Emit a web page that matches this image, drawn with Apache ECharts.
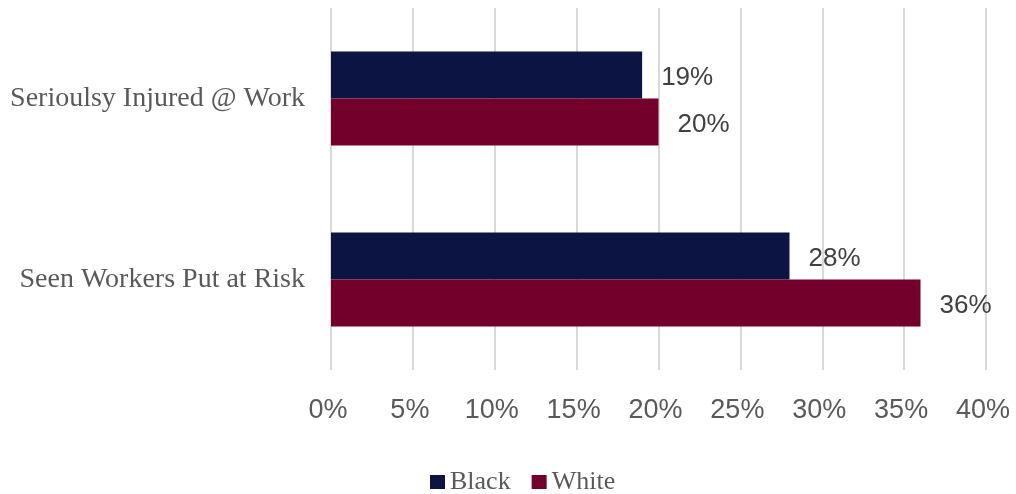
<!DOCTYPE html>
<html>
<head>
<meta charset="utf-8">
<script src="https://cdn.jsdelivr.net/npm/echarts@6/dist/echarts.min.js"></script>
<style>html,body{margin:0;padding:0;background:#fff}#c{width:1016px;height:494px}</style>
</head>
<body>
<div id="c"></div>
<script>
const categories = ["Serioulsy Injured @ Work", "Seen Workers Put at Risk"];
const seriesNames = ["Black", "White"];
const blackValues = [19, 28];
const whiteValues = [20, 36];
const tickValues = [0, 5, 10, 15, 20, 25, 30, 35, 40];

const colors = ["#0b1443", "#72002a"];
const chart = echarts.init(document.getElementById('c'), null, {renderer: 'canvas'});
const serif = "'Liberation Serif', 'DejaVu Serif', serif";
const sans = "'Liberation Sans', Arial, sans-serif";
const label = {
  show: true, position: 'right', distance: 19, offset: [0, 3],
  formatter: p => p.value + '%',
  color: '#404040', fontSize: 26, fontFamily: sans
};
chart.setOption({
  animation: false,
  grid: {left: 331, right: 30, top: 8, bottom: 124, containLabel: false},
  legend: {
    top: 464, left: 425, itemWidth: 15, itemHeight: 14, itemGap: 21,
    icon: 'rect',
    textStyle: {color: '#595959', fontSize: 26, fontFamily: serif},
    data: seriesNames
  },
  xAxis: {
    type: 'value', min: tickValues[0], max: tickValues[tickValues.length-1], interval: 5,
    axisLine: {show: false}, axisTick: {show: false},
    splitLine: {show: true, lineStyle: {color: '#d9d9d9', width: 2}},
    axisLabel: {formatter: v => v + '%', color: '#595959', fontSize: 27, fontFamily: sans, margin: 27, padding: [0, 6, 0, 0]}
  },
  yAxis: {
    type: 'category', data: categories, inverse: true,
    axisLine: {show: false}, axisTick: {show: false},
    axisLabel: {color: '#595959', fontSize: 28, fontFamily: serif, margin: 26}
  },
  series: [
    {name: seriesNames[0], type: 'bar', data: blackValues, barWidth: 47, barGap: '0%', itemStyle: {color: colors[0]}, label: label},
    {name: seriesNames[1], type: 'bar', data: whiteValues, barWidth: 47, barGap: '0%', itemStyle: {color: colors[1]}, label: label}
  ]
});
</script>
</body>
</html>
